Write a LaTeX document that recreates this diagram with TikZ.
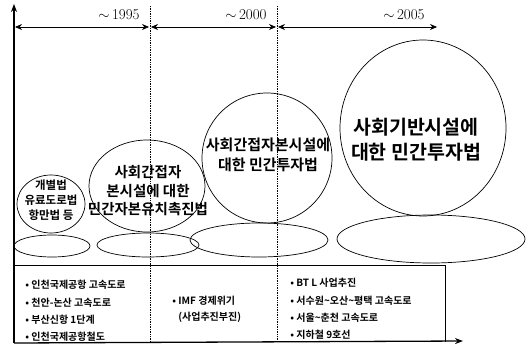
\documentclass[tikz,border=0pt]{standalone}
\usepackage{fontspec}
\newfontfamily\kr{Noto Sans CJK KR}[BoldFont={Noto Sans CJK KR Bold}]
\usetikzlibrary{arrows.meta}
\tikzset{
	law/.style={align=center,inner sep=0pt},
	item/.style={anchor=west,inner sep=0pt,font=\kr\bfseries\fontsize{10}{11}\selectfont},
	year/.style={inner sep=0pt,font=\fontsize{15}{15}\selectfont},
	span/.style={{Stealth[length=7pt,width=6pt]}-{Stealth[length=7pt,width=6pt]}}
}

\begin{document}
\begin{tikzpicture}[x=1pt,y=-1pt,line width=0.7pt]
	\useasboundingbox (0,0) rectangle (526,353);

	% axes
	\draw[line width=1.3pt,-{Stealth[length=8pt,width=6pt]}] (14,343) -- (14,4);
	\draw[line width=1.3pt,-{Stealth[length=8pt,width=6pt]}] (14,343) -- (463,341);

	% periods
	\draw[densely dotted] (150,6) -- (150,342);
	\draw[densely dotted] (277,6) -- (277,342);
	\draw[span] (15,27) -- (149,27);
	\draw[span] (151,27) -- (276,27);
	\draw[span] (278,27) -- (437,27);
	\node[year] (y1) at (119,15) {$\sim$\,1995};
	\node[year] (y2) at (246,15) {$\sim$\,2000};
	\node[year] (y3) at (404,15) {$\sim$\,2005};

	% laws
	\draw (51,204) ellipse [x radius=34pt, y radius=29pt];
	\draw (147,186) ellipse [x radius=58pt, y radius=46pt];
	\draw (267,158) ellipse [x radius=65pt, y radius=65pt];
	\draw (423,128) ellipse [x radius=83pt, y radius=88pt];
	\node[law,font=\kr\bfseries\fontsize{11.5}{15}\selectfont] (lawA) at (51,200)
		{개별법\\유료도로법\\항만법 등};
	\node[law,font=\kr\bfseries\fontsize{14.5}{18.5}\selectfont] (lawB) at (148,191)
		{사회간접자\\본시설에 대한\\민간자본유치촉진법};
	\node[law,font=\kr\bfseries\fontsize{15}{20}\selectfont] (lawC) at (268,155)
		{사회간접자본시설에\\대한 민간투자법};
	\node[law,font=\kr\bfseries\fontsize{19.5}{25}\selectfont] (lawD) at (416,140)
		{사회기반시설에\\대한 민간투자법};

	% bases
	\draw (52,246) ellipse [x radius=38pt, y radius=11pt];
	\draw (148,245) ellipse [x radius=51pt, y radius=12pt];
	\draw (259,240) ellipse [x radius=69pt, y radius=17pt];
	\draw (431,239) ellipse [x radius=94pt, y radius=24pt];

	% projects table
	\draw (14,265) -- (445,265);
	\draw (445,265) -- (445,342);
	\node[item] (p1) at (25,285) {• 인천국제공항 고속도로};
	\node[item] (p2) at (25,303) {• 천안-논산 고속도로};
	\node[item] (p3) at (25,320) {• 부산신항 1단계};
	\node[item] (p4) at (25,337) {• 인천국제공항철도};
	\node[item] (p5) at (172,301) {• IMF 경제위기};
	\node[item] (p6) at (178,317) {(사업추진부진)};
	\node[item] (p7) at (290,283) {• BT L 사업추진};
	\node[item] (p8) at (290,301) {• 서수원\textasciitilde 오산\textasciitilde 평택 고속도로};
	\node[item] (p9) at (290,318) {• 서울\textasciitilde 춘천 고속도로};
	\node[item] (p10) at (290,335) {• 지하철 9호선};
\end{tikzpicture}
\end{document}
